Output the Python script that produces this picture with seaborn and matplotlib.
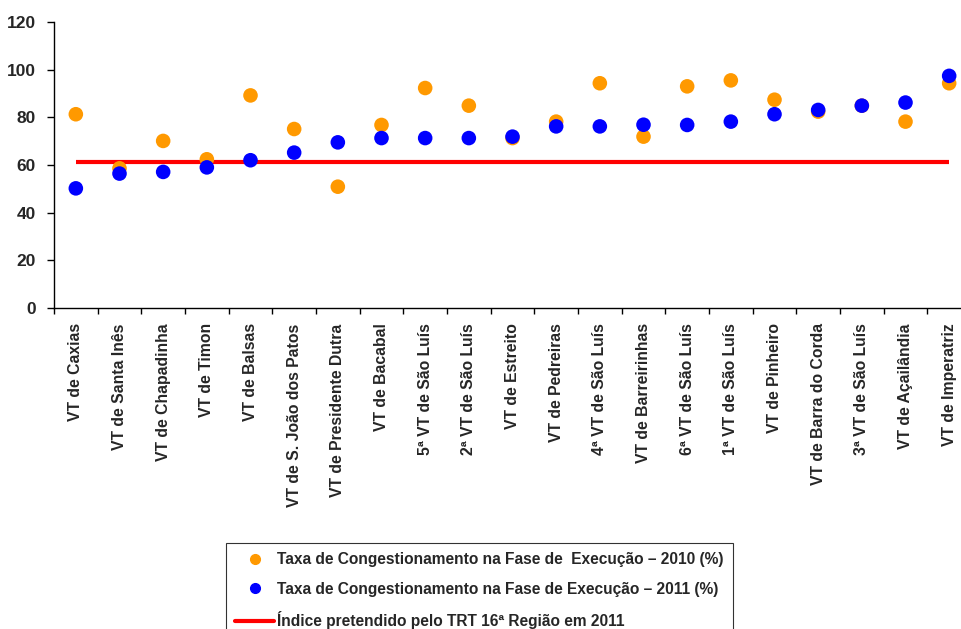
import numpy as np
import pandas as pd
import matplotlib
matplotlib.use("Agg")
import matplotlib.pyplot as plt
from matplotlib.lines import Line2D
import seaborn as sns

# data
varas = ["VT de Caxias", "VT de Santa Inês", "VT de Chapadinha", "VT de Timon",
         "VT de Balsas", "VT de S. João dos Patos", "VT de Presidente Dutra",
         "VT de Bacabal", "5ª VT de São Luís", "2ª VT de São Luís", "VT de Estreito",
         "VT de Pedreiras", "4ª VT de São Luís", "VT de Barreirinhas",
         "6ª VT de São Luís", "1ª VT de São Luís", "VT de Pinheiro",
         "VT de Barra do Corda", "3ª VT de São Luís", "VT de Açailândia",
         "VT de Imperatriz"]
taxa_2010 = [81.3, 58.6, 70.1, 62.4, 89.2, 75.1, 50.9, 76.8, 92.3, 84.9, 71.3,
             78.2, 94.3, 71.9, 93.0, 95.5, 87.4, 82.4, 84.9, 78.2, 94.3]
taxa_2011 = [50.2, 56.4, 57.1, 59.0, 62.0, 65.2, 69.5, 71.3, 71.3, 71.3, 71.9,
             76.2, 76.2, 76.9, 76.8, 78.2, 81.3, 83.1, 84.9, 86.2, 97.4]
meta_2011 = 61.1

lbl_2010 = "Taxa de Congestionamento na Fase de  Execução – 2010 (%)"
lbl_2011 = "Taxa de Congestionamento na Fase de Execução – 2011 (%)"
lbl_meta = "Índice pretendido pelo TRT 16ª Região em 2011"

df = pd.DataFrame({
    "vara": varas * 2,
    "taxa": taxa_2010 + taxa_2011,
    "serie": [lbl_2010] * len(varas) + [lbl_2011] * len(varas),
})

sns.set_style("white")
plt.rcParams["font.family"] = ["Liberation Sans", "DejaVu Sans"]
plt.rcParams["font.weight"] = "bold"

fig = plt.figure(figsize=(9.61, 6.29), dpi=100)
ax = fig.add_axes([54 / 961, 1 - 308 / 629, 917 / 961, 286 / 629])

# target line (under the points)
ax.hlines(meta_2011, 0, len(varas) - 1, color="#FF0000", lw=3, zorder=1)

sns.stripplot(data=df, x="vara", y="taxa", hue="serie", order=varas,
              palette={lbl_2010: "#FF9900", lbl_2011: "#0000FF"},
              jitter=False, dodge=False, size=10.5, linewidth=0,
              legend=False, ax=ax, zorder=3)

ax.set_xlim(-0.5, len(varas) - 0.5)
ax.set_ylim(0, 120)
ax.set_yticks(np.arange(0, 121, 20))
ax.set_xlabel("")
ax.set_ylabel("")

# ticks between categories on x
ax.set_xticks(np.arange(len(varas)))
ax.set_xticklabels(varas, rotation=90, fontsize=11.3, fontweight="bold")
ax.set_xticks(np.arange(-0.5, len(varas), 1), minor=True)
ax.tick_params(axis="x", which="major", bottom=True, length=0, pad=11)
ax.tick_params(axis="x", which="minor", bottom=True, length=4, width=1,
               color="black", direction="out")
ax.tick_params(axis="y", left=True, length=5, width=1, color="black",
               direction="out", pad=8, labelsize=12.5)
for t in ax.get_yticklabels():
    t.set_fontweight("bold")

for s in ["top", "right"]:
    ax.spines[s].set_visible(False)
for s in ["left", "bottom"]:
    ax.spines[s].set_color("black")
    ax.spines[s].set_linewidth(1)

handles = [
    Line2D([], [], ls="none", marker="o", ms=7, color="#FF9900"),
    Line2D([], [], ls="none", marker="o", ms=7, color="#0000FF"),
    Line2D([], [], color="#FF0000", lw=3),
]
leg = fig.legend(handles, [lbl_2010, lbl_2011, lbl_meta],
                 loc="upper left", bbox_to_anchor=(226 / 961, 1 - 543 / 629),
                 frameon=True, fancybox=False, edgecolor="black",
                 prop={"weight": "bold", "size": 11.2},
                 handlelength=2.5, handletextpad=0.2, labelspacing=0.93,
                 borderpad=0.6, borderaxespad=0)
leg.get_frame().set_linewidth(0.8)

fig.savefig("out.png", dpi=100)
